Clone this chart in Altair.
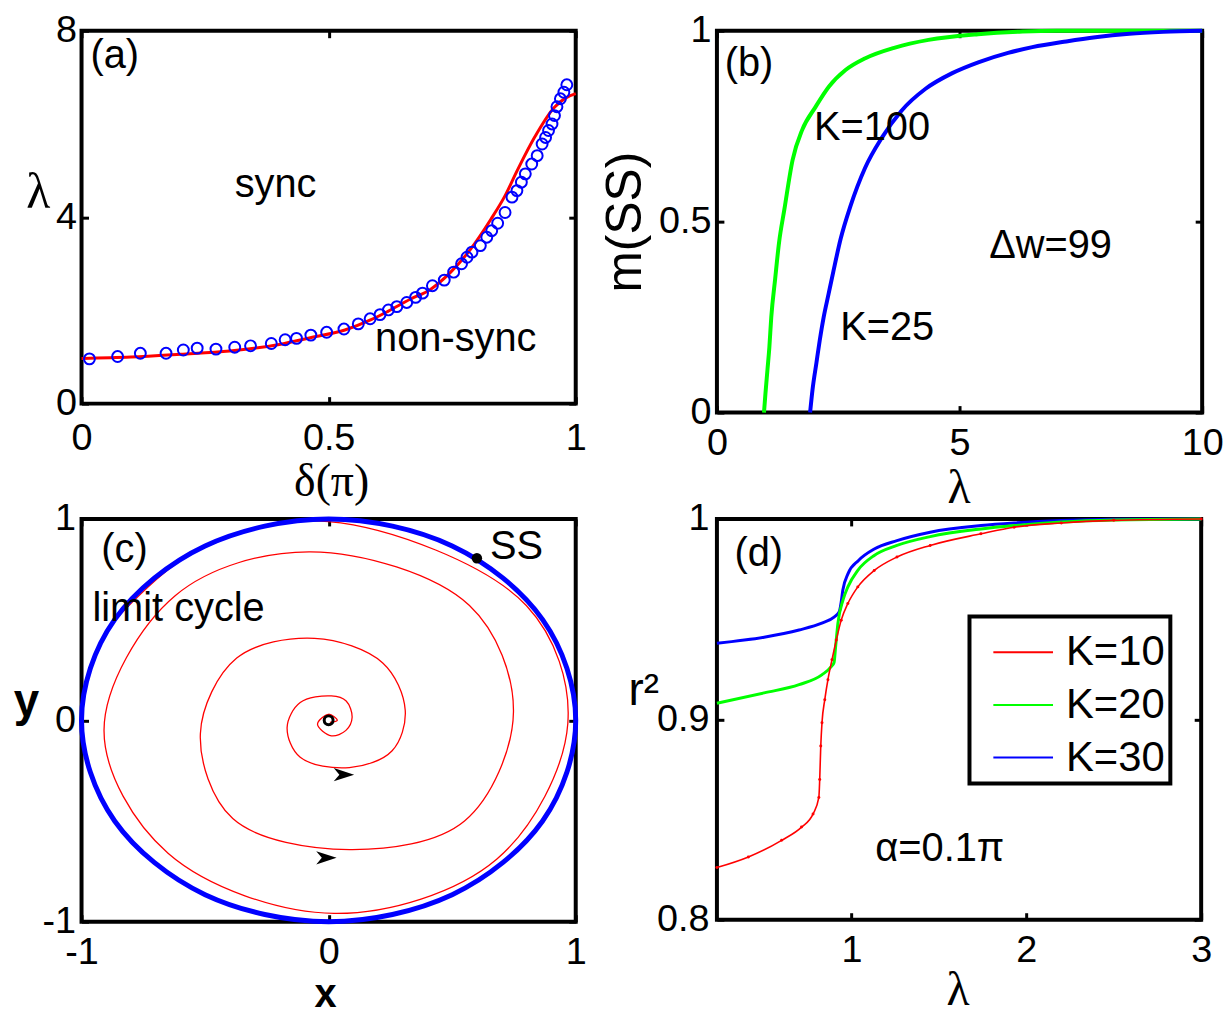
import altair as alt
import pandas as pd

FONT = "Liberation Sans"
SERIF = "Liberation Serif"
RED, GREEN, BLUE = "#ff0000", "#00ff00", "#0000ff"
TICK_FS = 38
TEXT_FS = 40

# ---------------- panel (a) ----------------
a_line_delta = [0.0, 0.1, 0.2, 0.3, 0.4, 0.465, 0.533, 0.586, 0.62, 0.665, 0.706, 0.747,
                0.787, 0.828, 0.856, 0.882, 0.917, 0.957, 0.98, 1.0]
a_line_lambda = [0.97, 1.0, 1.06, 1.13, 1.27, 1.42, 1.58, 1.80, 1.98, 2.24, 2.45, 2.82,
                 3.31, 3.95, 4.44, 5.01, 5.72, 6.36, 6.56, 6.65]
a_pts_delta = [0.016, 0.073, 0.119, 0.171, 0.206, 0.234, 0.272, 0.310, 0.342, 0.384, 0.412,
               0.435, 0.464, 0.496, 0.531, 0.560, 0.584, 0.604, 0.621, 0.638, 0.658, 0.676,
               0.690, 0.710, 0.734, 0.753, 0.769, 0.780, 0.790, 0.807, 0.820, 0.830, 0.842,
               0.857, 0.871, 0.881, 0.890, 0.898, 0.911, 0.922, 0.932, 0.939, 0.945, 0.952,
               0.957, 0.962, 0.969, 0.976, 0.982]
a_pts_lambda = [0.96, 1.01, 1.08, 1.08, 1.15, 1.19, 1.17, 1.21, 1.24, 1.29, 1.37,
                1.40, 1.47, 1.53, 1.60, 1.71, 1.82, 1.91, 2.01, 2.08, 2.17, 2.28,
                2.37, 2.53, 2.65, 2.82, 3.00, 3.14, 3.25, 3.39, 3.57, 3.71, 3.87,
                4.10, 4.43, 4.57, 4.75, 4.93, 5.14, 5.32, 5.57, 5.71, 5.86, 6.00,
                6.18, 6.37, 6.54, 6.68, 6.84]
a_text = ["(a)", "sync", "non-sync"]
a_text_x = [0.018, 0.31, 0.594]
a_text_y = [7.46, 4.68, 1.39]

# ---------------- panel (b) ----------------
b_k100_lambda = [0.97, 1.0, 1.04, 1.08, 1.12, 1.2, 1.28, 1.39, 1.56, 1.76, 2.03, 2.31, 2.65,
                 3.06, 3.67, 4.36, 5.38, 6.3, 7.0, 10.0]
b_k100_m = [0.0, 0.05, 0.11, 0.17, 0.25, 0.35, 0.445, 0.532, 0.662, 0.741, 0.80, 0.854, 0.897,
            0.928, 0.956, 0.976, 0.991, 0.998, 1.0, 1.0]
b_k25_lambda = [1.92, 1.97, 2.05, 2.12, 2.2, 2.3, 2.4, 2.55, 2.75, 3.05, 3.4, 3.8, 4.3, 4.85,
                5.4, 6.0, 6.5, 7.2, 7.8, 8.5, 9.2, 10.0]
b_k25_m = [0.0, 0.06, 0.13, 0.19, 0.25, 0.31, 0.37, 0.455, 0.54, 0.64, 0.72, 0.79, 0.848, 0.889,
           0.918, 0.942, 0.957, 0.972, 0.983, 0.992, 0.997, 1.0]
b_text = ["(b)", "K=100", "Δw=99", "K=25"]
b_text_x = [0.16, 2.0, 5.61, 2.54]
b_text_y = [0.913, 0.745, 0.435, 0.221]

# ---------------- panel (c) ----------------
c_cycle_x = [1.0, 0.866, 0.5, 0.0, -0.5, -0.866, -1.0, -0.866, -0.5, 0.0, 0.5, 0.866]
c_cycle_y = [0.0, 0.5, 0.866, 1.0, 0.866, 0.5, 0.0, -0.5, -0.866, -1.0, -0.866, -0.5]
c_spiral_x = [0.005, 0.035, 0.0, -0.045, 0.011, 0.07, 0.095, 0.071, 0.011, -0.115, -0.168,
              -0.115, 0.084, 0.257, 0.31, 0.219, -0.057, -0.372, -0.519, -0.388, 0.085,
              0.55, 0.748, 0.57, -0.073, -0.62, -0.909, -0.65, 0.022, 0.68, 0.968,
              0.80, 0.0, -0.55, -0.87]
c_spiral_y = [-0.01, 0.0, 0.03, -0.02, -0.077, -0.05, 0.014, 0.096, 0.121, 0.088, -0.035,
              -0.184, -0.235, -0.151, 0.05, 0.285, 0.407, 0.309, -0.065, -0.488, -0.642,
              -0.50, 0.041, 0.57, 0.837, 0.62, -0.049, -0.66, -0.959, -0.69, -0.016,
              0.57, 0.987, 0.83, 0.49]
c_arrow_x = [0.062, -0.009]
c_arrow_y = [-0.27, -0.683]
c_ss_x, c_ss_y = [0.60], [0.805]
c_fixed_x, c_fixed_y = [0.0], [0.0]
c_text = ["(c)", "limit cycle", "SS"]
c_text_x = [-0.92, -0.956, 0.653]
c_text_y = [0.847, 0.551, 0.862]

# ---------------- panel (d) ----------------
d_k10_lambda = [0.23, 0.41, 0.6, 0.714, 0.78, 0.813, 0.818, 0.824, 0.831, 0.847, 0.865, 0.888,
                0.913, 0.941, 0.979, 1.036, 1.13, 1.26, 1.45, 1.74, 1.93, 2.2, 2.5, 3.0]
d_k10_r2 = [0.826, 0.8313, 0.8396, 0.8462, 0.8528, 0.861, 0.870, 0.8867, 0.8983, 0.9098, 0.9198,
            0.9297, 0.9396, 0.9495, 0.9578, 0.9661, 0.9743, 0.981, 0.9868, 0.9926, 0.9959,
            0.998, 0.9993, 1.0]
d_k20_lambda = [0.23, 0.5, 0.7, 0.83, 0.885, 0.9, 0.909, 0.922, 0.951, 0.979, 1.036, 1.13,
                1.26, 1.45, 1.74, 1.93, 2.2, 2.5, 3.0]
d_k20_r2 = [0.908, 0.9132, 0.9173, 0.9222, 0.9264, 0.9284, 0.9363, 0.9479, 0.9595, 0.9661,
            0.9744, 0.9818, 0.9868, 0.9912, 0.995, 0.9967, 0.9985, 0.9995, 1.0]
d_k30_lambda = [0.23, 0.5, 0.7, 0.83, 0.9, 0.93, 0.94, 0.95, 0.98, 1.04, 1.13, 1.26, 1.45,
                1.74, 1.93, 2.2, 2.5, 3.0]
d_k30_r2 = [0.938, 0.941, 0.9446, 0.948, 0.951, 0.9537, 0.958, 0.9644, 0.9727, 0.9793, 0.985,
            0.9892, 0.9934, 0.9967, 0.998, 0.9992, 0.9998, 1.0]
d_series = ["K=10", "K=20", "K=30"]
d_text = ["(d)", "α=0.1π"]
d_text_x = [0.33, 1.136]
d_text_y = [0.9826, 0.8352]


# ---------------- helpers ----------------
def main_axis(values, title, label_pad, tx, ty, tfont, tsize, tweight="normal", tangle=0):
    return alt.Axis(values=values, title=title, labelExpr="'' + datum.value",
                    labelPadding=label_pad, labelFontSize=TICK_FS, labelFont=FONT,
                    labelColor="black", labelFlush=False, labelOverlap=False,
                    ticks=False, tickSize=0, domain=False, grid=False,
                    titleX=tx, titleY=ty, titleAngle=tangle, titleAlign="center",
                    titleBaseline="middle", titleFont=tfont, titleFontSize=tsize,
                    titleFontWeight=tweight, titleColor="black")


def tick_axis(values, orient, offset):
    return alt.Axis(values=values, orient=orient, offset=offset, labels=False, domain=False,
                    grid=False, ticks=True, tickSize=7, tickWidth=3, tickColor="black",
                    title=None)


def text_layer(df, xs, ys, xaxis=None, yaxis=None):
    return alt.Chart(df).mark_text(align="left", baseline="middle", font=FONT,
                                   fontSize=TEXT_FS, color="black").encode(
        x=alt.X("x:Q", scale=xs, axis=xaxis),
        y=alt.Y("y:Q", scale=ys, axis=yaxis),
        text="t:N")


# ---------------- panel (a) ----------------
WA, HA = 497, 375
xa = alt.Scale(domain=[0, 1], nice=False, zero=False)
ya = alt.Scale(domain=[0, 8], nice=False, zero=False)
a_vx, a_vy = [0, 0.5, 1], [0, 4, 8]
df_a_line = pd.DataFrame({"x": a_line_delta, "y": a_line_lambda})
df_a_pts = pd.DataFrame({"x": a_pts_delta, "y": a_pts_lambda})
df_a_txt = pd.DataFrame({"x": a_text_x, "y": a_text_y, "t": a_text})

a_line = alt.Chart(df_a_line).mark_line(color=RED, strokeWidth=3, interpolate="monotone").encode(
    x=alt.X("x:Q", scale=xa, axis=main_axis(a_vx, "δ(π)", 16, 251, 78, SERIF, 46)),
    y=alt.Y("y:Q", scale=ya, axis=main_axis(a_vy, "λ", 5, -44, 163, SERIF, 50)))
a_pts = alt.Chart(df_a_pts).mark_point(shape="circle", size=120, strokeWidth=2, color=BLUE,
                                       filled=False, opacity=1).encode(
    x=alt.X("x:Q", scale=xa, axis=tick_axis(a_vx, "top", -HA)),
    y=alt.Y("y:Q", scale=ya, axis=tick_axis(a_vy, "right", -WA)))
a_txt = text_layer(df_a_txt, xa, ya, tick_axis(a_vx, "bottom", -HA), tick_axis(a_vy, "left", -WA))
panel_a = alt.layer(a_line, a_pts, a_txt).resolve_axis(x="independent", y="independent") \
    .properties(width=WA, height=HA)

# ---------------- panel (b) ----------------
WB, HB = 488, 384
xb = alt.Scale(domain=[0, 10], nice=False, zero=False)
yb = alt.Scale(domain=[0, 1], nice=False, zero=False)
b_vx, b_vy = [0, 5, 10], [0, 0.5, 1]
df_b1 = pd.DataFrame({"x": b_k100_lambda, "y": b_k100_m})
df_b2 = pd.DataFrame({"x": b_k25_lambda, "y": b_k25_m})
df_b_t1 = pd.DataFrame({"x": b_text_x[:1], "y": b_text_y[:1], "t": b_text[:1]})
df_b_t2 = pd.DataFrame({"x": b_text_x[1:], "y": b_text_y[1:], "t": b_text[1:]})
b_line1 = alt.Chart(df_b1).mark_line(color=GREEN, strokeWidth=4, interpolate="monotone").encode(
    x=alt.X("x:Q", scale=xb, axis=main_axis(b_vx, "λ", 12, 243, 76, SERIF, 48)),
    y=alt.Y("y:Q", scale=yb, axis=main_axis(b_vy, "m(SS)", 6, -92, 192, FONT, 50, tangle=270)))
b_line2 = alt.Chart(df_b2).mark_line(color=BLUE, strokeWidth=4, interpolate="monotone").encode(
    x=alt.X("x:Q", scale=xb, axis=None), y=alt.Y("y:Q", scale=yb, axis=None))
b_t1 = text_layer(df_b_t1, xb, yb, tick_axis(b_vx, "top", -HB), tick_axis(b_vy, "right", -WB))
b_t2 = text_layer(df_b_t2, xb, yb, tick_axis(b_vx, "bottom", -HB), tick_axis(b_vy, "left", -WB))
panel_b = alt.layer(b_line1, b_line2, b_t1, b_t2) \
    .resolve_axis(x="independent", y="independent").properties(width=WB, height=HB)

# ---------------- panel (c) ----------------
WC, HC = 497, 405
xc = alt.Scale(domain=[-1, 1], nice=False, zero=False)
yc = alt.Scale(domain=[-1, 1], nice=False, zero=False)
c_v = [-1, 0, 1]
df_c_cycle = pd.DataFrame({"x": c_cycle_x, "y": c_cycle_y, "o": list(range(len(c_cycle_x)))})
df_c_spiral = pd.DataFrame({"x": c_spiral_x, "y": c_spiral_y, "o": list(range(len(c_spiral_x)))})
df_c_arrow = pd.DataFrame({"x": c_arrow_x, "y": c_arrow_y})
df_c_ss = pd.DataFrame({"x": c_ss_x, "y": c_ss_y})
df_c_fix = pd.DataFrame({"x": c_fixed_x, "y": c_fixed_y})
df_c_txt = pd.DataFrame({"x": c_text_x, "y": c_text_y, "t": c_text})

c_spiral = alt.Chart(df_c_spiral).mark_line(color=RED, strokeWidth=1.3,
                                            interpolate="catmull-rom").encode(
    x=alt.X("x:Q", scale=xc, axis=tick_axis(c_v, "top", -HC)),
    y=alt.Y("y:Q", scale=yc, axis=tick_axis(c_v, "right", -WC)),
    order="o:Q")
c_cycle = alt.Chart(df_c_cycle).mark_line(color=BLUE, strokeWidth=5,
                                          interpolate="cardinal-closed").encode(
    x=alt.X("x:Q", scale=xc, axis=main_axis(c_v, "x", 12, 245, 73, FONT, 40, "bold")),
    y=alt.Y("y:Q", scale=yc, axis=main_axis(c_v, "y", 6, -56, 184, FONT, 46, "bold")),
    order="o:Q")
c_arrow = alt.Chart(df_c_arrow).mark_point(
    shape="M-1,-0.65L1,0L-1,0.65L-0.45,0Z", size=420, filled=True, color="black",
    opacity=1).encode(
    x=alt.X("x:Q", scale=xc, axis=tick_axis(c_v, "bottom", -HC)),
    y=alt.Y("y:Q", scale=yc, axis=tick_axis(c_v, "left", -WC)))
c_ss = alt.Chart(df_c_ss).mark_point(shape="circle", size=110, filled=True, color="black",
                                     opacity=1).encode(
    x=alt.X("x:Q", scale=xc, axis=None), y=alt.Y("y:Q", scale=yc, axis=None))
c_fix = alt.Chart(df_c_fix).mark_point(shape="circle", size=80, filled=False, color="black",
                                       strokeWidth=3, opacity=1).encode(
    x=alt.X("x:Q", scale=xc, axis=None), y=alt.Y("y:Q", scale=yc, axis=None))
c_txt = text_layer(df_c_txt, xc, yc)
panel_c = alt.layer(c_spiral, c_cycle, c_arrow, c_ss, c_fix, c_txt) \
    .resolve_axis(x="independent", y="independent").properties(width=WC, height=HC)

# ---------------- panel (d) ----------------
WD, HD = 487, 403
xd = alt.Scale(domain=[0.23, 3], nice=False, zero=False)
yd = alt.Scale(domain=[0.8, 1], nice=False, zero=False)
d_vx, d_vy = [1, 2, 3], [0.8, 0.9, 1]
d_color = alt.Scale(domain=d_series, range=[RED, GREEN, BLUE])
d_legend = alt.Legend(orient="none", legendX=254, legendY=98, title=None,
                      labelFont=FONT, labelFontSize=42, labelColor="black",
                      symbolType="stroke", symbolSize=3600, symbolStrokeWidth=2,
                      rowPadding=1, symbolOffset=18, labelOffset=12, padding=5,
                      strokeColor="black", fillColor="white")
df_d10 = pd.DataFrame({"x": d_k10_lambda, "y": d_k10_r2, "s": d_series[0]})
df_d20 = pd.DataFrame({"x": d_k20_lambda, "y": d_k20_r2, "s": d_series[1]})
df_d30 = pd.DataFrame({"x": d_k30_lambda, "y": d_k30_r2, "s": d_series[2]})
df_d_txt = pd.DataFrame({"x": d_text_x, "y": d_text_y, "t": d_text})

d_l30 = alt.Chart(df_d30).mark_line(strokeWidth=3, interpolate="monotone").encode(
    x=alt.X("x:Q", scale=xd, axis=main_axis(d_vx, "λ", 12, 242, 71, SERIF, 48)),
    y=alt.Y("y:Q", scale=yd, axis=main_axis(d_vy, "r²", 8, -74, 173, FONT, 46)),
    color=alt.Color("s:N", scale=d_color, legend=d_legend))
d_l20 = alt.Chart(df_d20).mark_line(strokeWidth=3, interpolate="monotone").encode(
    x=alt.X("x:Q", scale=xd, axis=None), y=alt.Y("y:Q", scale=yd, axis=None),
    color=alt.Color("s:N", scale=d_color, legend=d_legend))
d_l10 = alt.Chart(df_d10).mark_line(strokeWidth=1.6, interpolate="monotone").encode(
    x=alt.X("x:Q", scale=xd, axis=None), y=alt.Y("y:Q", scale=yd, axis=None),
    color=alt.Color("s:N", scale=d_color, legend=d_legend))
d_dots = alt.Chart(df_d10).mark_point(shape="circle", size=9, filled=True, color=RED,
                                      opacity=1).encode(
    x=alt.X("x:Q", scale=xd, axis=tick_axis(d_vx, "top", -HD)),
    y=alt.Y("y:Q", scale=yd, axis=tick_axis(d_vy, "right", -WD)))
d_txt = text_layer(df_d_txt, xd, yd, tick_axis(d_vx, "bottom", -HD), tick_axis(d_vy, "left", -WD))
panel_d = alt.layer(d_l30, d_l20, d_l10, d_dots, d_txt) \
    .resolve_axis(x="independent", y="independent").properties(width=WD, height=HD)

chart = alt.concat(panel_a, panel_b, panel_c, panel_d, columns=2,
                   spacing={"row": 107, "column": 142}, bounds="flush") \
    .resolve_scale(color="independent") \
    .resolve_legend(color="independent") \
    .properties(padding={"left": 11, "top": 7, "right": 5, "bottom": 5}, background="white") \
    .configure_view(stroke="black", strokeWidth=4) \
    .configure_legend(strokeWidth=4)

chart.save("out.html", embed_options={"renderer": "svg", "actions": False})
